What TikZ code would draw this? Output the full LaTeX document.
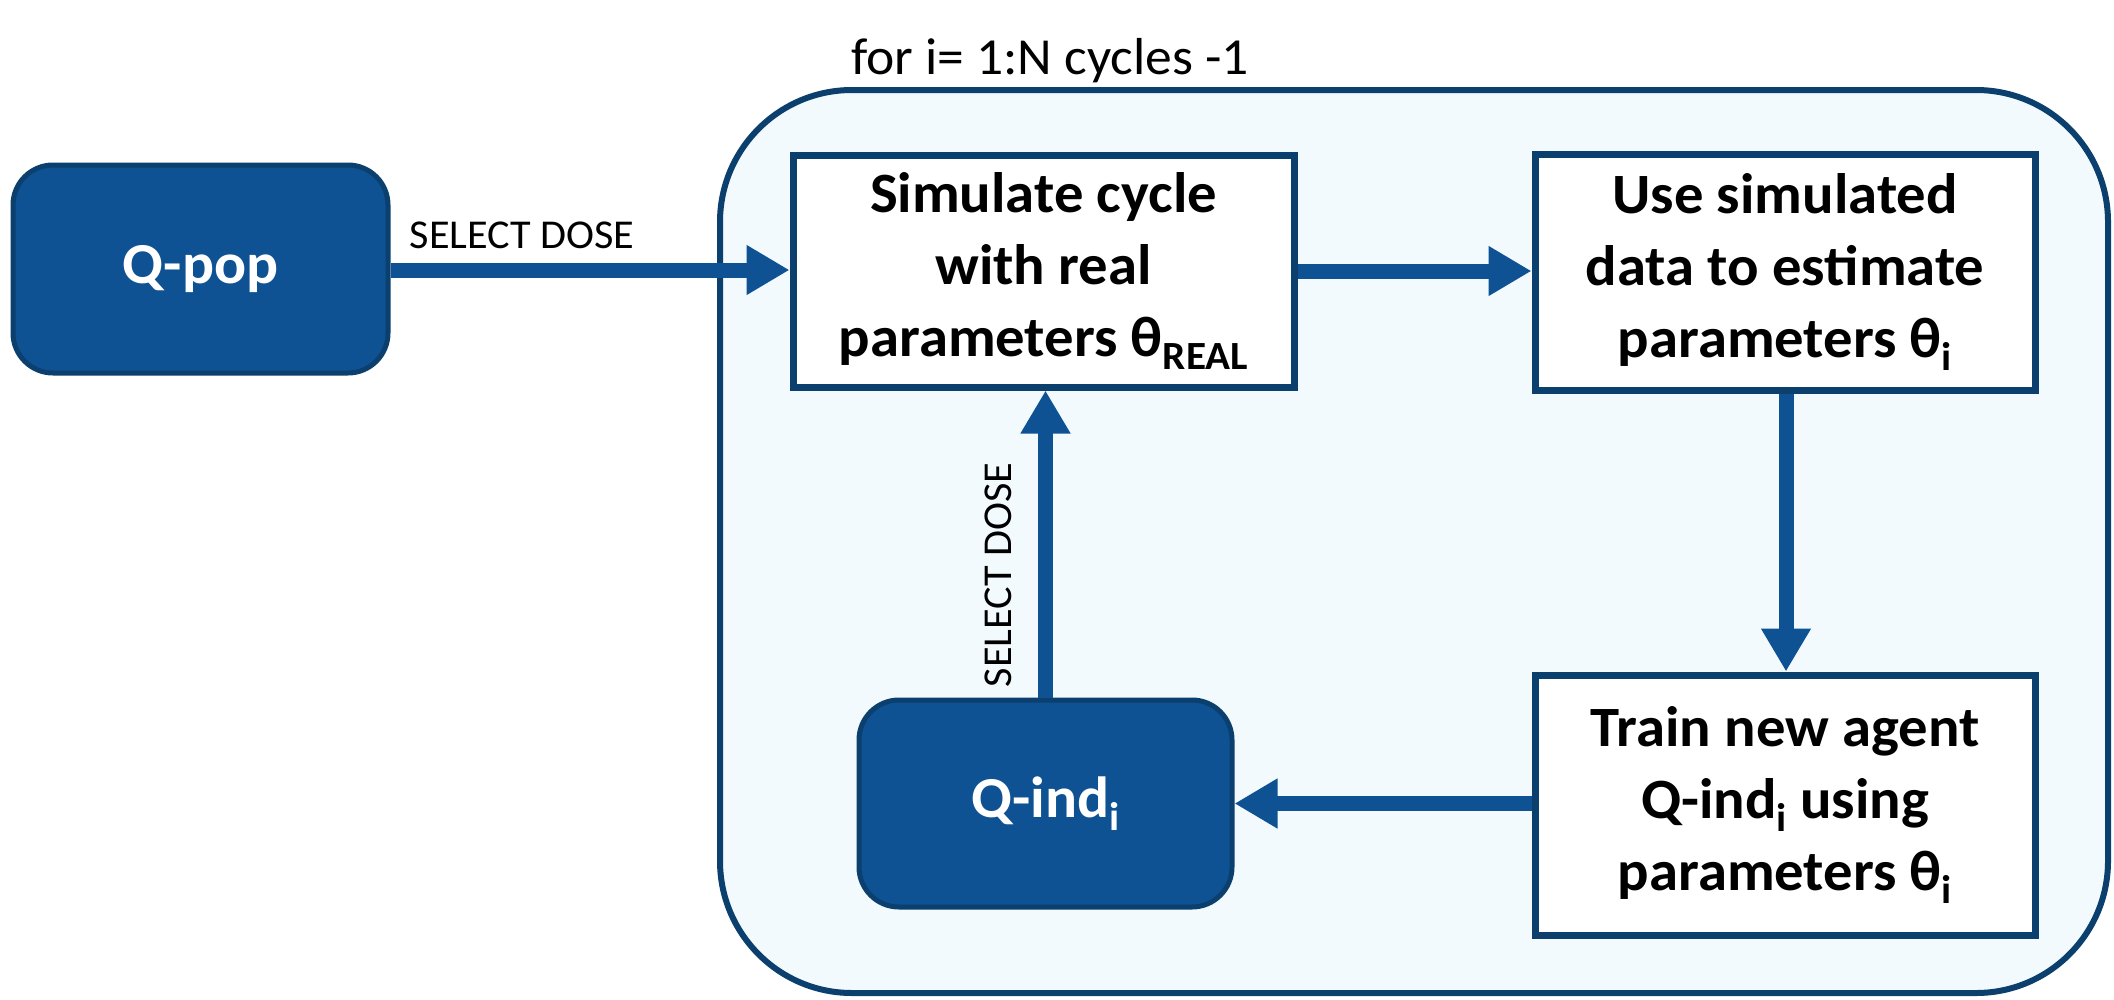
\documentclass[tikz,border=0pt]{standalone}
\usepackage{fontspec}
\setmainfont{Carlito}[FakeStretch=1.03]
\usetikzlibrary{arrows.meta}
\definecolor{qblue}{HTML}{0F5294}
\definecolor{qnavy}{HTML}{0B3F6E}
\definecolor{qbg}{HTML}{F3FAFD}
\newcommand{\lowsub}[1]{\raisebox{-13pt}{\fontsize{40}{40}\selectfont #1}}
\tikzset{
  container/.style={draw=qnavy, line width=6pt, fill=qbg, rounded corners=132pt, inner sep=0pt},
  whitebox/.style={draw=qnavy, line width=7pt, fill=white, align=center, inner sep=0pt,
    font=\fontsize{57}{72}\selectfont\bfseries},
  agentbox/.style={draw=qnavy, line width=5pt, fill=qblue, rounded corners=40pt, align=center,
    inner sep=0pt, text=white, font=\fontsize{58}{64}\selectfont\bfseries},
  flow/.style={draw=qblue, line width=15pt, -{Triangle[length=43pt,width=47pt]}},
  lbl/.style={font=\fontsize{41}{44}\selectfont, text=black, inner sep=0pt},
}
\begin{document}
\begin{tikzpicture}[x=1pt,y=-1pt]
\useasboundingbox (0,0) rectangle (2114,999);
\node[container, minimum width=1388pt, minimum height=903pt] (loop) at (1414,541.5) {};
\node[lbl, font=\fontsize{52}{56}\selectfont] (title) at (1050,61) {for i= 1:N cycles -1};
\node[agentbox, minimum width=375pt, minimum height=208pt] (qpop) at (200.5,269) {Q-pop};
\node[whitebox, minimum width=501pt, minimum height=232pt] (sim) at (1043.5,271)
  {Simulate cycle\\with real\\parameters θ\lowsub{REAL}};
\node[whitebox, minimum width=500pt, minimum height=236pt] (use) at (1785,272)
  {Use simulated\\data to estimate\\parameters θ\lowsub{i}};
\node[whitebox, minimum width=500pt, minimum height=260pt] (train) at (1785,805)
  {Train new agent\\Q-ind\lowsub{i} using\\parameters θ\lowsub{i}};
\node[agentbox, minimum width=373pt, minimum height=207pt] (qind) at (1045.5,803.5) {Q-ind\lowsub{i}};
\draw[flow] (qpop.east |- 0,270) -- (sim.west |- 0,270)
  node[lbl, pos=0.33, anchor=base, yshift=22pt] (sd1) {SELECT DOSE};
\draw[flow] (sim.east) -- (sim.east -| use.west);
\draw[flow] (use.south -| 1786,0) -- (train.north -| 1786,0);
\draw[flow] (qind.east -| train.west) -- (qind.east);
\draw[flow] (qind.north) -- (qind.north |- sim.south)
  node[lbl, pos=0.4, rotate=90, anchor=center, yshift=47pt] (sd2) {SELECT DOSE};
\end{tikzpicture}
\end{document}
